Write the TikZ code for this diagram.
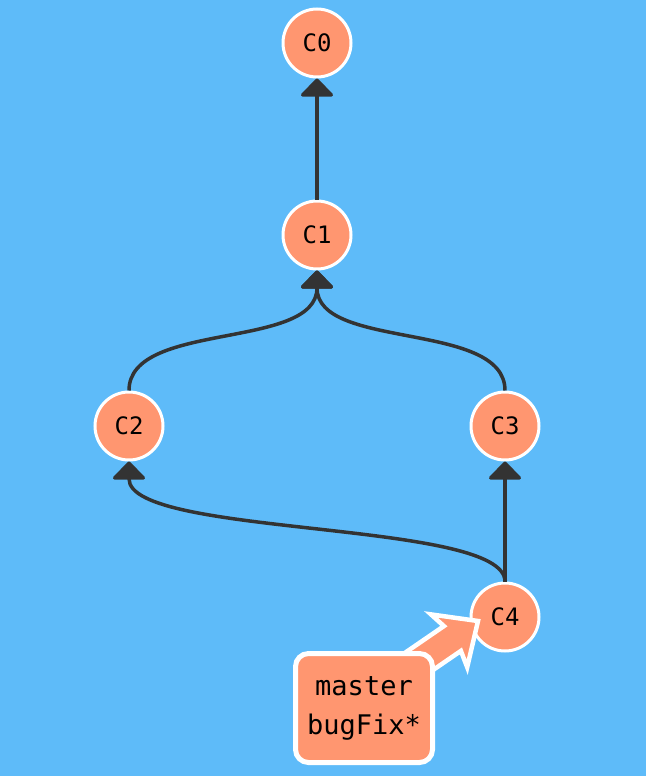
\documentclass[tikz,border=0pt]{standalone}
\usepackage{fontspec}
\setmonofont{DejaVu Sans Mono}
\usetikzlibrary{arrows.meta}
\definecolor{bgblue}{HTML}{5EBBF9}
\definecolor{salmon}{HTML}{FF9670}
\definecolor{edgegray}{HTML}{333333}
\tikzset{
  commit/.style={circle, fill=salmon, draw=white, line width=3pt, minimum size=68pt, inner sep=0pt, font=\ttfamily\fontsize{24}{28}\selectfont, text=black},
  parentlink/.style={draw=edgegray, line width=3.5pt, -{Triangle[width=36pt,length=19pt,round]}},
  branchbox/.style={rectangle, rounded corners=13pt, fill=salmon, draw=white, line width=5pt, minimum width=137pt, minimum height=109pt, align=center, font=\ttfamily\fontsize{27}{39}\selectfont, text=black},
  fatarrow/.style={fill=salmon, draw=white, line width=4.5pt, line join=miter}
}
\begin{document}
\begin{tikzpicture}[x=1pt,y=-1pt]
\fill[bgblue] (0,0) rectangle (646,776);
\useasboundingbox (0,0) rectangle (646,776);
\node[commit] (c0) at (317,43) {C0};
\node[commit] (c1) at (317,235) {C1};
\node[commit] (c2) at (129,426) {C2};
\node[commit] (c3) at (505,426) {C3};
\node[commit] (c4) at (505,617) {C4};
\draw[parentlink] (c1) -- (c0);
\draw[parentlink] (c2.north) .. controls +(0,-70) and +(0,80) .. (c1.south);
\draw[parentlink] (c3.north) .. controls +(0,-70) and +(0,80) .. (c1.south);
\draw[parentlink] (c4) -- (c3);
\draw[parentlink] (c4.north) .. controls +(0,-62) and +(0,76) .. (c2.south);
\coordinate (tipA) at (478,621);
\draw[fatarrow] (tipA) -- (431.0,614.4) -- (443.9,626.1) -- (378.8,670.8) -- (395.8,695.6) -- (460.9,650.9) -- (467.2,667.2) -- cycle;
\node[branchbox] (lbl) at (364,708) {master\\bugFix*};
\end{tikzpicture}
\end{document}
